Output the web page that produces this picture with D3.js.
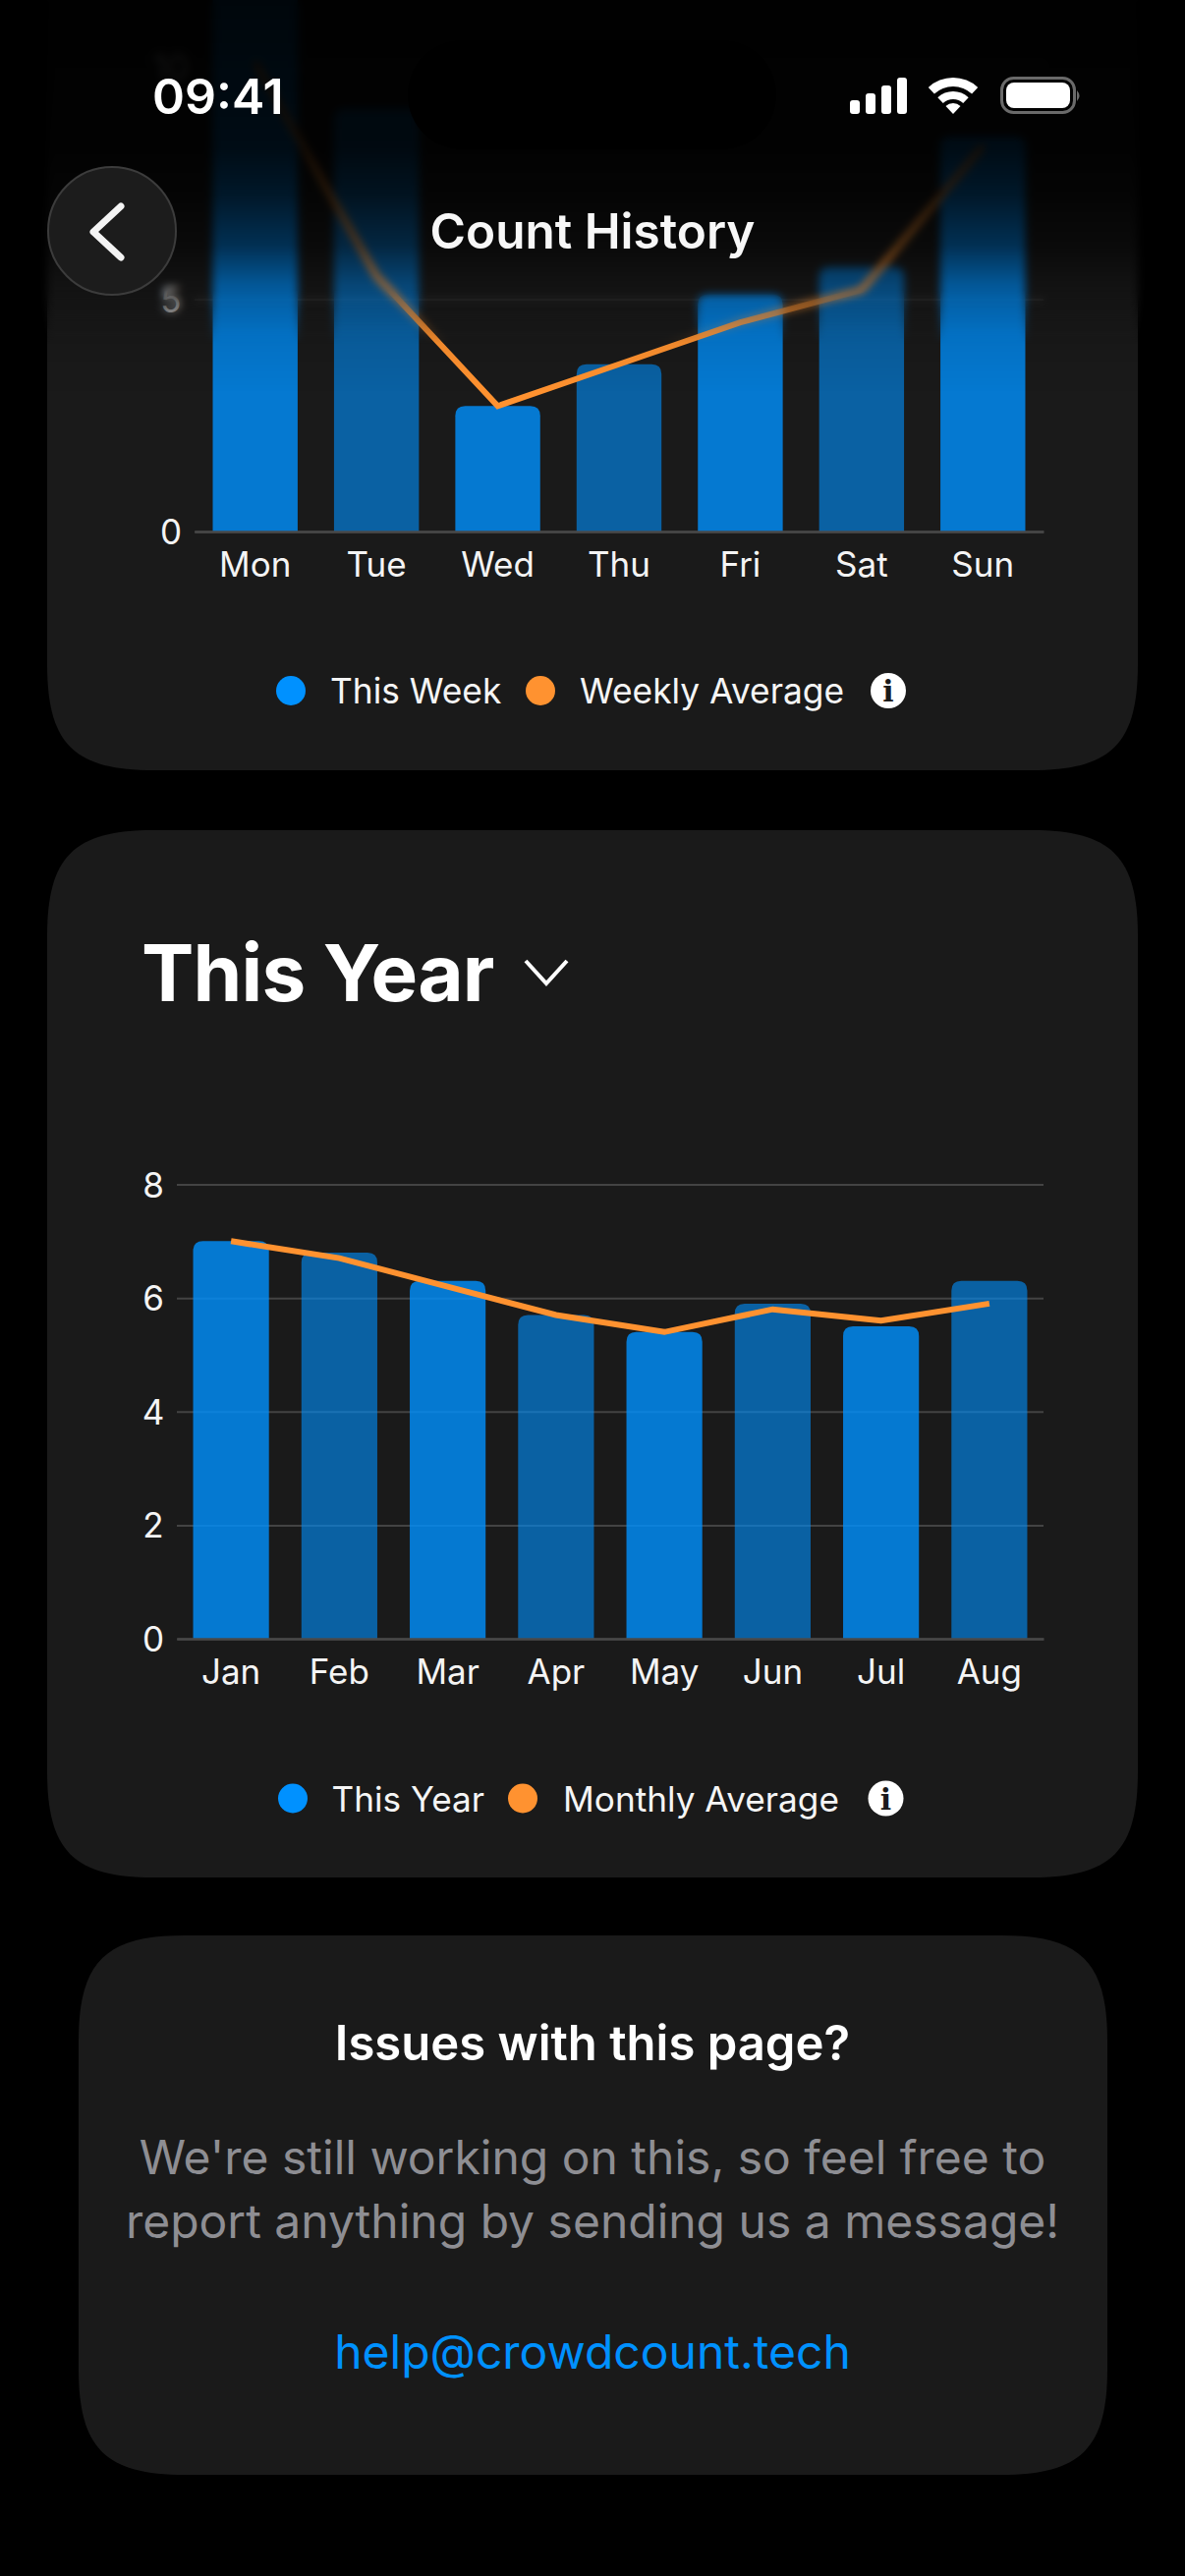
<!DOCTYPE html>
<html><head><meta charset="utf-8">
<script src="https://cdnjs.cloudflare.com/ajax/libs/d3/7.8.5/d3.min.js"></script>
<style>
html,body{margin:0;padding:0;background:#000;width:1206px;height:2622px;overflow:hidden}
svg{position:absolute;left:0;top:0}
text{font-family:Inter,sans-serif}
#blur{position:absolute;left:0;top:0;width:1206px;height:370px;
 backdrop-filter:blur(4px);-webkit-backdrop-filter:blur(4px);
 -webkit-mask-image:linear-gradient(to bottom,#000 0,#000 295px,transparent 350px);mask-image:linear-gradient(to bottom,#000 0,#000 295px,transparent 350px)}
#fade{position:absolute;left:0;top:0;width:1206px;height:420px;
 background:linear-gradient(to bottom,rgba(0,0,0,.95) 0,rgba(0,0,0,.9) 150px,rgba(0,0,0,.8) 200px,rgba(0,0,0,.6) 250px,rgba(0,0,0,.28) 290px,rgba(0,0,0,.2) 305px,rgba(0,0,0,.07) 340px,rgba(0,0,0,0) 400px)}
</style></head><body>
<svg id="chart" width="1206" height="2622"></svg>
<div id="blur"></div><div id="fade"></div>
<svg id="overlay" width="1206" height="400"></svg>
<script>
const weekDays=["Mon","Tue","Wed","Thu","Fri","Sat","Sun"];
const weekValues=[12.2,9.1,2.7,3.6,5.1,5.7,8.5];
const weekAverage=[10.1,5.5,2.7,3.6,4.5,5.2,8.3];
const weekTicks=[0,5,10];
const yearMonths=["Jan","Feb","Mar","Apr","May","Jun","Jul","Aug"];
const yearValues=[7.0,6.8,6.3,5.7,5.4,5.9,5.5,6.3];
const yearAverage=[7.0,6.7,6.2,5.7,5.4,5.8,5.6,5.9];
const yearTicks=[0,2,4,6,8];

const BLUE="#0091ff",ORANGE="#ff9230",CARD="#1a1a1a";
const svg=d3.select("#chart");

function card(x,y,w,h){
  const e=108,k=0.25,p=d3.path(),r=x+w,b=y+h;
  p.moveTo(x,y+e);p.bezierCurveTo(x,y+e*k,x+e*k,y,x+e,y);
  p.lineTo(r-e,y);p.bezierCurveTo(r-e*k,y,r,y+e*k,r,y+e);
  p.lineTo(r,b-e);p.bezierCurveTo(r,b-e*k,r-e*k,b,r-e,b);
  p.lineTo(x+e,b);p.bezierCurveTo(x+e*k,b,x,b-e*k,x,b-e);p.closePath();
  svg.append("path").attr("d",p.toString()).attr("fill",CARD);
}
card(48,-400,1110,1184);
card(48,845,1110,1066);
card(80,1970,1047,549);

function topRounded(x,y,w,h,r){
  const p=d3.path();p.moveTo(x,y+h);p.lineTo(x,y+r);p.quadraticCurveTo(x,y,x+r,y);
  p.lineTo(x+w-r,y);p.quadraticCurveTo(x+w,y,x+w,y+r);p.lineTo(x+w,y+h);p.closePath();return p.toString();
}
function barChart(o){
  const x=d3.scaleBand().domain(o.cats).range([o.x0,o.x1]).paddingInner(0.3).paddingOuter(0.15);
  const y=d3.scaleLinear().domain([0,o.yMax]).range([o.y0,o.yTop]);
  const g=svg.append("g");
  const ya=g.append("g").attr("transform",`translate(${o.x0},0)`)
    .call(d3.axisLeft(y).tickValues(o.ticks).tickFormat(d3.format("d")).tickSize(-(o.x1-o.x0)).tickPadding(o.yPad));
  ya.select(".domain").remove();
  ya.selectAll("line").attr("stroke","#434343").attr("stroke-width",2);
  ya.selectAll("text").attr("fill","#f4f4f4").attr("font-size",35).attr("font-weight",400).attr("text-anchor","middle").attr("x",-o.yPad).attr("dy","0.36em");
  g.append("g").selectAll("path").data(o.vals).join("path")
    .attr("d",(d,i)=>topRounded(x(o.cats[i]),y(d),x.bandwidth(),o.y0-y(d),10))
    .attr("fill",BLUE).attr("fill-opacity",(d,i)=>i%2?0.6:0.8);
  const xa=g.append("g").attr("transform",`translate(0,${o.y0})`)
    .call(d3.axisBottom(x).tickSize(0).tickPadding(21));
  xa.select(".domain").attr("stroke","#484848").attr("stroke-width",2.5);
  xa.selectAll("text").attr("fill","#f4f4f4").attr("font-size",35).attr("font-weight",400);
  const line=d3.line().x((d,i)=>x(o.cats[i])+x.bandwidth()/2).y(d=>y(d));
  g.append("path").attr("d",line(o.avg)).attr("fill","none").attr("stroke",ORANGE).attr("stroke-width",6).attr("stroke-linejoin","miter");
}
barChart({cats:weekDays,vals:weekValues,avg:weekAverage,ticks:weekTicks,x0:198,x1:1062,y0:541,yTop:68,yMax:10,yPad:24});
barChart({cats:yearMonths,vals:yearValues,avg:yearAverage,ticks:yearTicks,x0:180,x1:1062,y0:1668,yTop:1205.5,yMax:8,yPad:24});

function legend(ly,b,t1,o,t2,ix,tx1,tx2,fs){
  svg.append("circle").attr("cx",b).attr("cy",ly).attr("r",15).attr("fill",BLUE);
  svg.append("circle").attr("cx",o).attr("cy",ly).attr("r",15).attr("fill",ORANGE);
  svg.append("text").attr("x",tx1).attr("y",ly+13).attr("fill","#f5f5f5").attr("font-size",fs).attr("font-weight",400).text(t1);
  svg.append("text").attr("x",tx2).attr("y",ly+13).attr("fill","#f5f5f5").attr("font-size",fs).attr("font-weight",400).text(t2);
  svg.append("circle").attr("cx",ix).attr("cy",ly).attr("r",18).attr("fill","#fff");
  svg.append("text").attr("x",ix).attr("y",ly+11).attr("text-anchor","middle").attr("fill","#1a1a1a").attr("font-size",30).attr("font-weight",700).style("font-family","'DejaVu Serif',serif").text("i");
}
legend(703,296,"This Week",550,"Weekly Average",904,336,590,35.3);
legend(1830.5,298,"This Year",532,"Monthly Average",901.5,337.5,573,35.2);

svg.append("text").attr("x",144).attr("y",1019).attr("fill","#fff").attr("font-size",80).attr("font-weight",700).attr("letter-spacing",-0.8).text("This Year");
svg.append("path").attr("d","M535 978L556 1001L577 978").attr("fill","none").attr("stroke","#fff").attr("stroke-width",4);

const ctext=(t,y,fs,fw,fill)=>svg.append("text").attr("x",603).attr("y",y).attr("text-anchor","middle").attr("fill",fill).attr("font-size",fs).attr("font-weight",fw).text(t);
ctext("Issues with this page?",2097,49,600,"#fff");
ctext("We're still working on this, so feel free to",2213,48,400,"#8e8e93");
ctext("report anything by sending us a message!",2278,48,400,"#8e8e93");
ctext("help@crowdcount.tech",2411,48,400,BLUE);

// overlay UI
const ui=d3.select("#overlay");
ui.append("rect").attr("x",415).attr("y",41).attr("width",375).attr("height",111).attr("rx",55).attr("fill","#000");
ui.append("text").attr("x",155).attr("y",116).attr("fill","#fff").attr("font-size",50).attr("font-weight",600).text("09:41");
ui.append("text").attr("x",603).attr("y",253).attr("text-anchor","middle").attr("fill","#f7f7f7").attr("font-size",49.5).attr("font-weight",600).text("Count History");
ui.append("circle").attr("cx",114).attr("cy",235).attr("r",65).attr("fill","#1c1c1c").attr("stroke","#3c3c3c").attr("stroke-width",2);
ui.append("path").attr("d","M123 210L95 236L123 262").attr("fill","none").attr("stroke","#f4f4f4").attr("stroke-width",7).attr("stroke-linecap","round").attr("stroke-linejoin","round");
[[865,102],[881,95],[897,87],[913,79]].forEach(([x,y])=>ui.append("rect").attr("x",x).attr("y",y).attr("width",10).attr("height",116-y).attr("rx",3).attr("fill","#fff"));
[[28,37],[15,23],[0,11]].forEach(([a,b])=>ui.append("path").attr("transform","translate(970,116)").attr("d",d3.arc().innerRadius(a).outerRadius(b).startAngle(-0.75).endAngle(0.75)()).attr("fill","#fff"));
ui.append("rect").attr("x",1019.5).attr("y",79.5).attr("width",74).attr("height",35).attr("rx",12).attr("fill","none").attr("stroke","#6a6a6a").attr("stroke-width",3);
ui.append("rect").attr("x",1024).attr("y",84).attr("width",65).attr("height",26).attr("rx",8).attr("fill","#fff");
ui.append("path").attr("d","M1096 92Q1101 97.5 1096 103Z").attr("fill","#6a6a6a");
</script>
</body></html>
